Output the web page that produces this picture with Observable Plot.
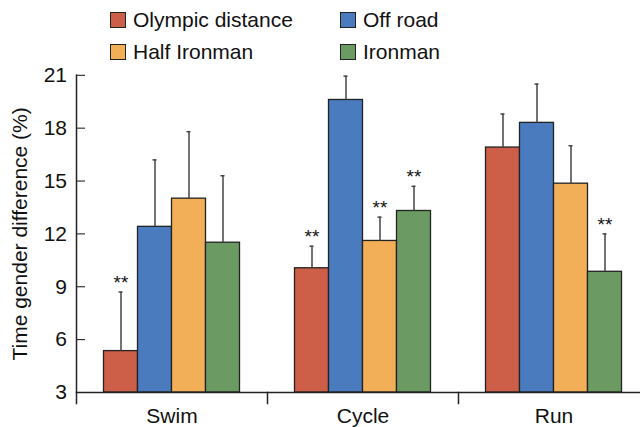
<!DOCTYPE html>
<html><head><meta charset="utf-8">
<script src="https://cdn.jsdelivr.net/npm/d3@7"></script>
<script src="https://cdn.jsdelivr.net/npm/@observablehq/plot@0.6"></script>
<style>
body{margin:0;background:#fff;font-family:"Liberation Sans",Arial,Helvetica,sans-serif;}
#legend{position:relative;height:62px;width:640px;}
.item{position:absolute;display:flex;align-items:center;font-size:21px;line-height:24px;color:#111;white-space:nowrap;}
.sw{width:14px;height:14px;border:1.2px solid #222;margin-right:7px;}
</style></head><body>
<div id="legend"></div>
<div id="chart"></div>
<script>
const disciplines = ["Swim", "Cycle", "Run"];
const events = ["Olympic distance", "Off road", "Half Ironman", "Ironman"];
const colors = ["#CD5E47", "#4A7BBF", "#F2AF57", "#6B9B62"];
// mean time gender difference (%) per event, for each discipline
const swimMean = [5.35, 12.4, 14.0, 11.5];
const cycleMean = [10.05, 19.6, 11.6, 13.3];
const runMean = [16.9, 18.3, 14.85, 9.85];
// upper end of the error bar (mean + SD)
const swimUpper = [8.7, 16.2, 17.8, 15.3];
const cycleUpper = [11.3, 20.95, 12.95, 14.7];
const runUpper = [18.8, 20.5, 17.0, 12.0];
// significance marks (**)
const swimSig = [true, false, false, false];
const cycleSig = [true, false, true, true];
const runSig = [false, false, false, true];
const yTicks = [3, 6, 9, 12, 15, 18, 21];

const means = [swimMean, cycleMean, runMean];
const uppers = [swimUpper, cycleUpper, runUpper];
const sigs = [swimSig, cycleSig, runSig];
const data = [];
disciplines.forEach((d, i) => events.forEach((e, j) => data.push({
  discipline: d, event: e, value: means[i][j], upper: uppers[i][j], sig: sigs[i][j]
})));

// legend
const legend = document.getElementById("legend");
const legendPos = [[110, 8], [340, 8], [110, 40], [340, 40]];
events.forEach((e, j) => {
  const it = document.createElement("div");
  it.className = "item";
  it.style.left = legendPos[j][0] + "px";
  it.style.top = legendPos[j][1] + "px";
  const sw = document.createElement("span");
  sw.className = "sw";
  sw.style.background = colors[j];
  it.appendChild(sw);
  it.appendChild(document.createTextNode(e));
  legend.appendChild(it);
});

const plot = Plot.plot({
  width: 640, height: 365,
  marginTop: 12.8, marginBottom: 35, marginLeft: 75.5, marginRight: 0,
  style: {fontFamily: "Liberation Sans, Arial, Helvetica, sans-serif", fontSize: "21px", color: "#111", overflow: "visible"},
  fx: {domain: disciplines, range: [74.5, 650], padding: 0, label: null},
  x: {domain: events, paddingInner: 0, paddingOuter: 0.74, axis: null},
  y: {domain: [3, 21]},
  color: {domain: events, range: colors},
  marks: [
    Plot.barY(data, {fx: "discipline", x: "event", y1: 3, y2: "value", fill: "event", stroke: "#222", strokeWidth: 1.3}),
    Plot.ruleX(data, {fx: "discipline", x: "event", y1: "value", y2: "upper", stroke: "#444", strokeWidth: 1.5}),
    Plot.tickY(data, {fx: "discipline", x: "event", y: "upper", inset: 15, stroke: "#444", strokeWidth: 1.5}),
    Plot.text(data.filter(d => d.sig), {fx: "discipline", x: "event", y: "upper", text: () => "**", dy: -9, fontSize: 19, fill: "#111"}),
    Plot.axisY({ticks: yTicks, tickSize: -9, tickPadding: 18.5, fontSize: 21, label: "Time gender difference (%)", labelAnchor: "center", labelOffset: 64, labelArrow: "none"}),
    Plot.axisFx({anchor: "bottom", tickSize: 0, tickPadding: 16, fontSize: 21, label: null}),
    Plot.frame({anchor: "left", facet: "super", insetBottom: -11, stroke: "#222", strokeWidth: 1.5}),
    Plot.frame({anchor: "bottom", facet: "super", stroke: "#222", strokeWidth: 1.5}),
    Plot.frame({anchor: "right", insetTop: 317.2, insetBottom: -11, stroke: "#222", strokeWidth: 1.5})
  ]
});
document.getElementById("chart").appendChild(plot);
</script>
</body></html>
